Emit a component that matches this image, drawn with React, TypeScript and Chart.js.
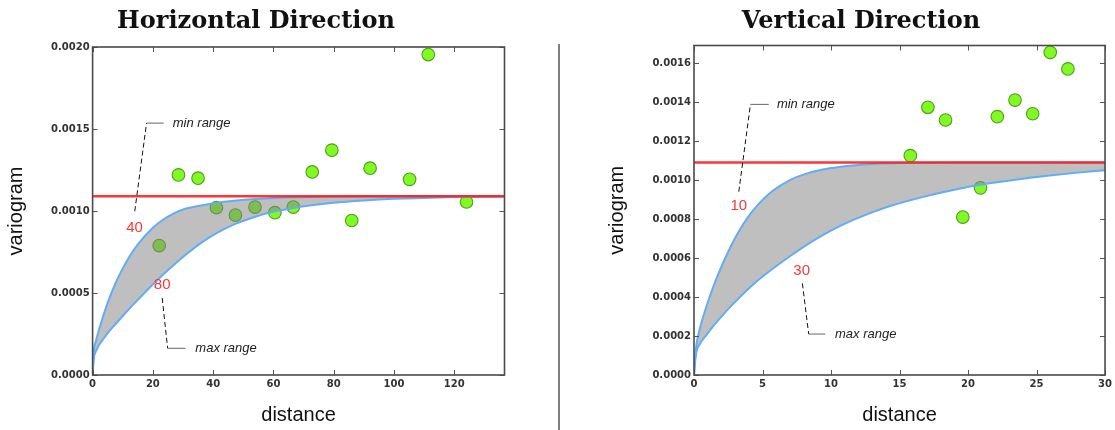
import { useEffect, useRef } from 'react';
import { Chart, registerables } from 'chart.js';

Chart.register(...registerables);

// ---- Horizontal direction -------------------------------------------------
// experimental variogram (lag distance, semivariance)
const H_LAG = [22.1, 28.5, 35.0, 41.1, 47.4, 53.9, 60.5, 66.6, 72.9, 79.4, 86.0, 92.1, 105.2, 111.4, 124.1];
const H_GAMMA = [0.000789, 0.00122, 0.0012, 0.00102, 0.000975, 0.001024, 0.00099, 0.001024, 0.001238, 0.001371, 0.000942, 0.001261, 0.001193, 0.001954, 0.001055];
// fitted model envelope: shortest and longest admissible range
const H_MODEL_DIST = [0, 0.4, 1, 2, 3.5, 5, 7.5, 10, 12.5, 15, 20, 23, 27, 31, 35, 38, 41, 47, 54, 60.5, 66.6, 72, 80, 90, 100, 115, 136.7];
const H_MODEL_MIN_RANGE = [0, 0.00015, 0.0002, 0.000268, 0.000358, 0.00044, 0.000555, 0.00065, 0.00073, 0.000797, 0.000898, 0.000942, 0.000985, 0.001015, 0.00103, 0.00104, 0.001049, 0.001062, 0.001073, 0.00108, 0.001084, 0.001086, 0.001088, 0.00109, 0.00109, 0.00109, 0.00109];
const H_MODEL_MAX_RANGE = [0, 0.0001, 0.00014, 0.000178, 0.000218, 0.000255, 0.000308, 0.00036, 0.00041, 0.000458, 0.000552, 0.000605, 0.000672, 0.000735, 0.000792, 0.00083, 0.000864, 0.000918, 0.000965, 0.000998, 0.001018, 0.001033, 0.00105, 0.001064, 0.001074, 0.001083, 0.001088];
const H_RANGES = [40, 80];
const H_X_TICKS = [0, 20, 40, 60, 80, 100, 120];
const H_Y_TICKS = [0, 0.0005, 0.001, 0.0015, 0.002];

// ---- Vertical direction ---------------------------------------------------
const V_LAG = [15.79, 17.07, 18.36, 19.62, 20.91, 22.14, 23.43, 24.72, 26.0, 27.29];
const V_GAMMA = [0.001125, 0.001373, 0.001308, 0.00081, 0.00096, 0.001325, 0.00141, 0.00134, 0.001655, 0.00157];
const V_MODEL_DIST = [0, 0.15, 0.4, 0.9, 1.5, 2.1, 2.7, 3.3, 3.9, 4.5, 5.7, 7, 8.2, 9.4, 10.6, 11.8, 13, 14.2, 16.6, 19, 21, 24, 26.3, 28, 30];
const V_MODEL_MIN_RANGE = [0, 0.00014, 0.00023, 0.00035, 0.00047, 0.000572, 0.000662, 0.00074, 0.000806, 0.00086, 0.000942, 0.001, 0.001033, 0.001054, 0.001067, 0.001076, 0.001082, 0.001086, 0.001089, 0.00109, 0.00109, 0.00109, 0.00109, 0.00109, 0.00109];
const V_MODEL_MAX_RANGE = [0, 0.00011, 0.000155, 0.000205, 0.000258, 0.000307, 0.000353, 0.000396, 0.000437, 0.000476, 0.000542, 0.000609, 0.000666, 0.000717, 0.000762, 0.000801, 0.000834, 0.000864, 0.000911, 0.00095, 0.000977, 0.001007, 0.001026, 0.001038, 0.00105];
const V_RANGES = [10, 30];
const V_X_TICKS = [0, 5, 10, 15, 20, 25, 30];
const V_Y_TICKS = [0, 0.0002, 0.0004, 0.0006, 0.0008, 0.001, 0.0012, 0.0014, 0.0016];

// common sill of both directions
const SILL = 0.00109;

// ---- styling ---------------------------------------------------------------
const RED = 'rgba(255, 30, 30, 0.9)';
const BLUE = '#62adf6';
const BAND = 'rgba(128, 128, 128, 0.5)';
const GREEN = 'rgb(128, 250, 34)';
const GREEN_EDGE = 'rgb(78, 158, 30)';
const TICK_FONT = { family: 'DejaVu Sans', size: 10, weight: 'bold' as const };
const AXIS_TITLE_FONT = { family: 'Liberation Sans', size: 20 };

type Callout = {
  label: string;
  labelAt: [number, number];
  note: string;
  elbow: [number, number];
  tail: [number, number];
  hEnd: number;
  noteX: number;
};

type Panel = {
  title: string;
  titleX: number;
  left: number;
  width: number;
  xMax: number;
  yMax: number;
  xTicks: number[];
  yTicks: number[];
  lag: number[];
  gamma: number[];
  dist: number[];
  minRange: number[];
  maxRange: number[];
  padding: { left: number; right: number; top: number; bottom: number };
  plotLeft: number;
  callouts: Callout[];
};

const PANELS: Panel[] = [
  {
    title: 'Horizontal Direction',
    titleX: 256,
    left: 0,
    width: 559,
    xMax: 136.7,
    yMax: 0.002,
    xTicks: H_X_TICKS,
    yTicks: H_Y_TICKS,
    lag: H_LAG,
    gamma: H_GAMMA,
    dist: H_MODEL_DIST,
    minRange: H_MODEL_MIN_RANGE,
    maxRange: H_MODEL_MAX_RANGE,
    padding: { left: 0, right: 54.5, top: 47, bottom: 3 },
    plotLeft: 92.6,
    callouts: [
      { label: String(H_RANGES[0]), labelAt: [13.9, 0.000898], note: 'min range', elbow: [17.9, 0.001536], tail: [14.0, 0.000999], hEnd: 23.6, noteX: 26.6 },
      { label: String(H_RANGES[1]), labelAt: [23.1, 0.000551], note: 'max range', elbow: [24.9, 0.000163], tail: [23.1, 0.000469], hEnd: 30.8, noteX: 34.1 },
    ],
  },
  {
    title: 'Vertical Direction',
    titleX: 302,
    left: 559,
    width: 556,
    xMax: 30,
    yMax: 0.00169,
    xTicks: V_X_TICKS,
    yTicks: V_Y_TICKS,
    lag: V_LAG,
    gamma: V_GAMMA,
    dist: V_MODEL_DIST,
    minRange: V_MODEL_MIN_RANGE,
    maxRange: V_MODEL_MAX_RANGE,
    padding: { left: 42.5, right: 8, top: 45.5, bottom: 3 },
    plotLeft: 135,
    callouts: [
      { label: String(V_RANGES[0]), labelAt: [3.27, 0.000868], note: 'min range', elbow: [4.12, 0.001388], tail: [3.27, 0.00094], hEnd: 5.46, noteX: 6.05 },
      { label: String(V_RANGES[1]), labelAt: [7.86, 0.000533], note: 'max range', elbow: [8.37, 0.00021], tail: [7.91, 0.00047], hEnd: 9.58, noteX: 10.29 },
    ],
  },
];

const xy = (xs: number[], ys: number[]) => xs.map((x, i) => ({ x, y: ys[i] }));

// frame around the plot area with inward tick marks on all four sides
const frameTicks = {
  id: 'frameTicks',
  afterDatasetsDraw(chart: any) {
    const { ctx, chartArea: a, scales } = chart;
    const len = 5;
    ctx.save();
    ctx.strokeStyle = '#555';
    ctx.lineWidth = 1;
    ctx.beginPath();
    for (const t of scales.x.ticks) {
      const px = Math.round(scales.x.getPixelForValue(t.value)) + 0.5;
      ctx.moveTo(px, a.bottom);
      ctx.lineTo(px, a.bottom - len);
      ctx.moveTo(px, a.top);
      ctx.lineTo(px, a.top + len);
    }
    for (const t of scales.y.ticks) {
      const py = Math.round(scales.y.getPixelForValue(t.value)) + 0.5;
      ctx.moveTo(a.left, py);
      ctx.lineTo(a.left + len, py);
      ctx.moveTo(a.right, py);
      ctx.lineTo(a.right - len, py);
    }
    ctx.stroke();
    ctx.strokeStyle = '#4a4a4a';
    ctx.lineWidth = 1.6;
    ctx.strokeRect(a.left, a.top, a.right - a.left, a.bottom - a.top);
    ctx.restore();
  },
};

function makeCallouts(panel: Panel) {
  return {
    id: 'rangeCallouts',
    afterDatasetsDraw(chart: any) {
      const { ctx, scales } = chart;
      const X = (v: number) => scales.x.getPixelForValue(v);
      const Y = (v: number) => scales.y.getPixelForValue(v);
      ctx.save();
      for (const c of panel.callouts) {
        // dashed leader from the range label towards the note
        ctx.strokeStyle = '#111';
        ctx.lineWidth = 1;
        ctx.setLineDash([5, 3]);
        ctx.beginPath();
        ctx.moveTo(X(c.tail[0]), Y(c.tail[1]));
        ctx.lineTo(X(c.elbow[0]), Y(c.elbow[1]));
        ctx.stroke();
        ctx.setLineDash([]);
        ctx.strokeStyle = '#666';
        ctx.beginPath();
        ctx.moveTo(X(c.elbow[0]), Y(c.elbow[1]));
        ctx.lineTo(X(c.hEnd), Y(c.elbow[1]));
        ctx.stroke();

        ctx.fillStyle = '#222';
        ctx.font = 'italic 13px "Liberation Sans"';
        ctx.textAlign = 'left';
        ctx.textBaseline = 'middle';
        ctx.fillText(c.note, X(c.noteX), Y(c.elbow[1]));

        ctx.fillStyle = '#f23a3a';
        ctx.font = '15px "Liberation Sans"';
        ctx.textAlign = 'center';
        ctx.fillText(c.label, X(c.labelAt[0]), Y(c.labelAt[1]));
      }
      ctx.restore();
    },
  };
}

function makeTitle(panel: Panel) {
  return {
    id: 'panelTitle',
    afterDraw(chart: any) {
      const { ctx } = chart;
      ctx.save();
      ctx.fillStyle = '#111';
      ctx.font = 'bold 24px "DejaVu Serif"';
      ctx.textAlign = 'center';
      ctx.textBaseline = 'alphabetic';
      ctx.fillText(panel.title, panel.titleX, 28);
      ctx.restore();
    },
  };
}

function VariogramPanel({ panel }: { panel: Panel }) {
  const ref = useRef<HTMLCanvasElement | null>(null);

  useEffect(() => {
    const canvas = ref.current;
    if (!canvas) return;
    const xAxisHeight = 430 - panel.padding.bottom - 375;
    const chart = new Chart(canvas, {
      type: 'scatter',
      data: {
        datasets: [
          {
            label: 'sill',
            data: [{ x: 0, y: SILL }, { x: panel.xMax, y: SILL }],
            showLine: true,
            borderColor: RED,
            borderWidth: 2.5,
            pointRadius: 0,
            order: 0,
          },
          {
            label: 'min range',
            data: xy(panel.dist, panel.minRange),
            showLine: true,
            borderColor: BLUE,
            borderWidth: 2,
            pointRadius: 0,
            cubicInterpolationMode: 'monotone',
            order: 1,
          },
          {
            label: 'max range',
            data: xy(panel.dist, panel.maxRange),
            showLine: true,
            borderColor: BLUE,
            borderWidth: 2,
            pointRadius: 0,
            cubicInterpolationMode: 'monotone',
            order: 2,
          },
          {
            label: 'envelope top',
            data: xy(panel.dist, panel.minRange),
            showLine: true,
            borderColor: 'rgba(0,0,0,0)',
            borderWidth: 0,
            pointRadius: 0,
            cubicInterpolationMode: 'monotone',
            order: 4,
          },
          {
            label: 'envelope',
            data: xy(panel.dist, panel.maxRange),
            showLine: true,
            borderColor: 'rgba(0,0,0,0)',
            borderWidth: 0,
            pointRadius: 0,
            cubicInterpolationMode: 'monotone',
            backgroundColor: BAND,
            fill: 3,
            order: 3,
          },
          {
            label: 'experimental',
            data: xy(panel.lag, panel.gamma),
            showLine: false,
            pointRadius: 6.3,
            pointBackgroundColor: GREEN,
            pointBorderColor: GREEN_EDGE,
            pointBorderWidth: 1.1,
            backgroundColor: GREEN,
            borderColor: GREEN_EDGE,
            order: 5,
          },
        ] as any,
      },
      options: {
        animation: false,
        responsive: false,
        events: [],
        layout: { padding: panel.padding, autoPadding: false } as any,
        plugins: {
          legend: { display: false },
          tooltip: { enabled: false },
          title: { display: false },
        },
        scales: {
          x: {
            type: 'linear',
            position: 'bottom',
            min: 0,
            max: panel.xMax,
            afterBuildTicks: (s: any) => {
              s.ticks = panel.xTicks.map((value) => ({ value }));
            },
            afterFit: (s: any) => {
              s.height = xAxisHeight;
            },
            grid: { display: false, drawTicks: false },
            border: { display: false },
            ticks: {
              font: TICK_FONT,
              color: '#333',
              padding: 3,
              maxRotation: 0,
              autoSkip: false,
              callback: (v: any) => String(v),
            },
            title: {
              display: true,
              text: 'distance',
              font: AXIS_TITLE_FONT,
              color: '#111',
              padding: { top: 0, bottom: 0 },
            },
          },
          y: {
            type: 'linear',
            position: 'left',
            min: 0,
            max: panel.yMax,
            afterBuildTicks: (s: any) => {
              s.ticks = panel.yTicks.map((value) => ({ value }));
            },
            afterFit: (s: any) => {
              s.width = panel.plotLeft - panel.padding.left;
            },
            grid: { display: false, drawTicks: false },
            border: { display: false },
            ticks: {
              font: TICK_FONT,
              color: '#333',
              padding: 3,
              autoSkip: false,
              callback: (v: any) => Number(v).toFixed(4),
            },
            title: {
              display: true,
              text: 'variogram',
              font: AXIS_TITLE_FONT,
              color: '#111',
              padding: { top: 4, bottom: 4 },
            },
          },
        },
      } as any,
      plugins: [frameTicks, makeCallouts(panel), makeTitle(panel)],
    });
    return () => chart.destroy();
  }, [panel]);

  return (
    <div style={{ position: 'absolute', left: panel.left, top: 0, width: panel.width, height: 430 }}>
      <canvas ref={ref} width={panel.width} height={430} style={{ display: 'block', width: panel.width, height: 430 }} />
    </div>
  );
}

export default function App() {
  return (
    <div style={{ position: 'fixed', left: 0, top: 0, width: 1115, height: 430, background: '#fff', overflow: 'hidden' }}>
      <VariogramPanel panel={PANELS[0]} />
      <VariogramPanel panel={PANELS[1]} />
      <div style={{ position: 'absolute', left: 558, top: 44, width: 2, height: 386, background: '#7f7f7f' }} />
    </div>
  );
}
